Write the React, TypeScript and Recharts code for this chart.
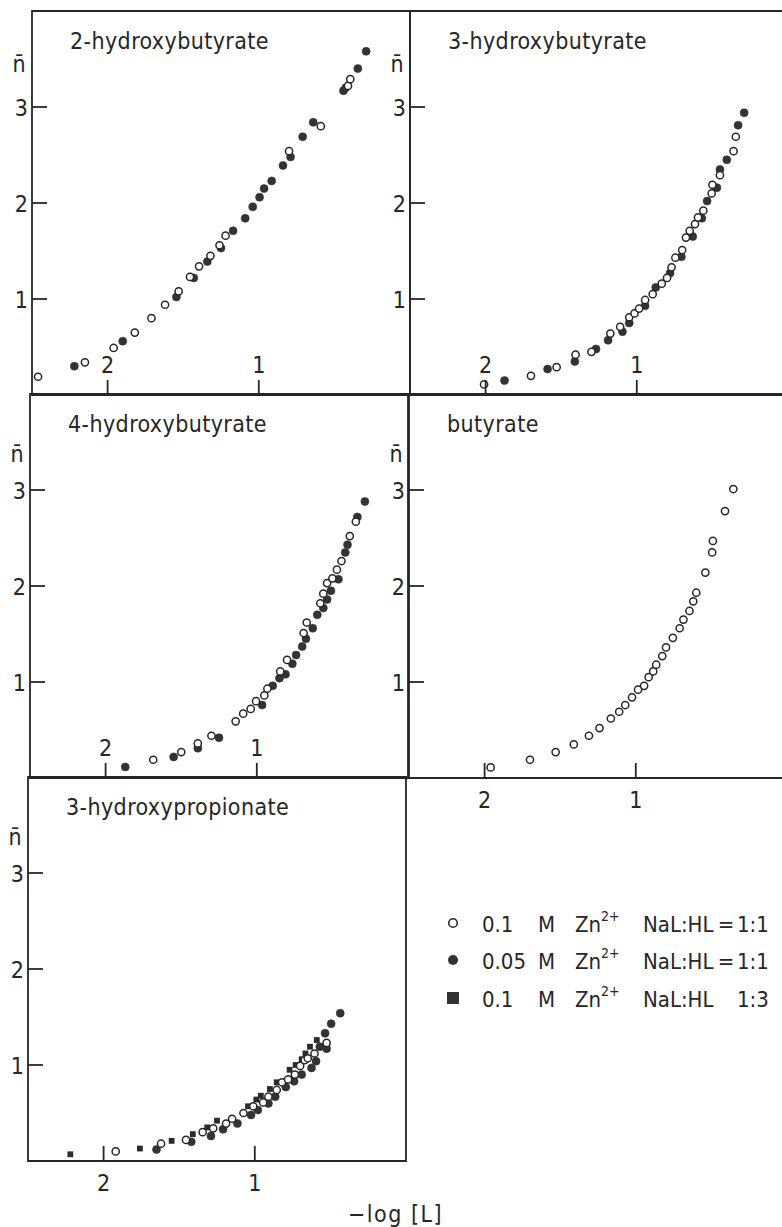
import React from "react";
import { ReferenceArea, Scatter, ScatterChart, XAxis, YAxis } from "recharts";

const FONT =
  '"DejaVu Sans Condensed", "Liberation Sans Narrow", "DejaVu Sans", sans-serif';
const INK = "#262626";

type Pt = { x: number; n: number };

const xTicks = [1, 2];
const yTicks = [1, 2, 3];

// 2-hydroxybutyrate
const hb2Open: Pt[] = [
  { x: 2.46, n: 0.19 }, { x: 2.15, n: 0.34 }, { x: 1.96, n: 0.49 }, { x: 1.82, n: 0.65 },
  { x: 1.71, n: 0.8 }, { x: 1.62, n: 0.94 }, { x: 1.53, n: 1.08 }, { x: 1.455, n: 1.23 },
  { x: 1.395, n: 1.34 }, { x: 1.32, n: 1.45 }, { x: 1.26, n: 1.56 }, { x: 1.22, n: 1.66 },
  { x: 0.8, n: 2.54 }, { x: 0.59, n: 2.8 }, { x: 0.41, n: 3.22 }, { x: 0.395, n: 3.29 },
];
const hb2Full: Pt[] = [
  { x: 2.22, n: 0.3 }, { x: 1.9, n: 0.56 }, { x: 1.545, n: 1.02 }, { x: 1.43, n: 1.22 },
  { x: 1.34, n: 1.39 }, { x: 1.25, n: 1.53 }, { x: 1.17, n: 1.71 }, { x: 1.09, n: 1.84 },
  { x: 1.04, n: 1.96 }, { x: 0.995, n: 2.06 }, { x: 0.965, n: 2.15 }, { x: 0.915, n: 2.23 },
  { x: 0.84, n: 2.39 }, { x: 0.79, n: 2.48 }, { x: 0.71, n: 2.69 }, { x: 0.64, n: 2.84 },
  { x: 0.44, n: 3.17 }, { x: 0.425, n: 3.2 }, { x: 0.345, n: 3.4 }, { x: 0.29, n: 3.58 },
];

// 3-hydroxybutyrate
const hb3Open: Pt[] = [
  { x: 2.01, n: 0.11 }, { x: 1.7, n: 0.2 }, { x: 1.53, n: 0.29 }, { x: 1.405, n: 0.42 },
  { x: 1.3, n: 0.45 }, { x: 1.175, n: 0.64 }, { x: 1.11, n: 0.71 }, { x: 1.05, n: 0.81 },
  { x: 1.015, n: 0.85 }, { x: 0.985, n: 0.9 }, { x: 0.945, n: 0.99 }, { x: 0.895, n: 1.05 },
  { x: 0.835, n: 1.16 }, { x: 0.8, n: 1.22 }, { x: 0.77, n: 1.33 }, { x: 0.745, n: 1.43 },
  { x: 0.7, n: 1.51 }, { x: 0.675, n: 1.64 }, { x: 0.65, n: 1.71 }, { x: 0.615, n: 1.78 },
  { x: 0.595, n: 1.85 }, { x: 0.56, n: 1.92 }, { x: 0.505, n: 2.1 }, { x: 0.5, n: 2.19 },
  { x: 0.45, n: 2.29 }, { x: 0.36, n: 2.54 }, { x: 0.345, n: 2.69 },
];
const hb3Full: Pt[] = [
  { x: 1.875, n: 0.15 }, { x: 1.59, n: 0.27 }, { x: 1.41, n: 0.35 }, { x: 1.27, n: 0.48 },
  { x: 1.19, n: 0.57 }, { x: 1.095, n: 0.66 }, { x: 1.05, n: 0.75 }, { x: 0.945, n: 0.93 },
  { x: 0.875, n: 1.12 }, { x: 0.78, n: 1.27 }, { x: 0.705, n: 1.44 }, { x: 0.63, n: 1.65 },
  { x: 0.57, n: 1.84 }, { x: 0.535, n: 2.02 }, { x: 0.47, n: 2.16 }, { x: 0.45, n: 2.35 },
  { x: 0.405, n: 2.45 }, { x: 0.33, n: 2.81 }, { x: 0.29, n: 2.94 },
];

// 4-hydroxybutyrate
const hb4Open: Pt[] = [
  { x: 1.685, n: 0.19 }, { x: 1.5, n: 0.27 }, { x: 1.39, n: 0.36 }, { x: 1.3, n: 0.44 },
  { x: 1.14, n: 0.59 }, { x: 1.09, n: 0.67 }, { x: 1.04, n: 0.72 }, { x: 1.005, n: 0.8 },
  { x: 0.95, n: 0.86 }, { x: 0.93, n: 0.93 }, { x: 0.845, n: 1.11 }, { x: 0.8, n: 1.23 },
  { x: 0.69, n: 1.51 }, { x: 0.67, n: 1.62 }, { x: 0.58, n: 1.82 }, { x: 0.56, n: 1.92 },
  { x: 0.535, n: 2.03 }, { x: 0.5, n: 2.08 }, { x: 0.47, n: 2.17 }, { x: 0.44, n: 2.26 },
  { x: 0.385, n: 2.52 }, { x: 0.345, n: 2.67 },
];
const hb4Full: Pt[] = [
  { x: 1.87, n: 0.115 }, { x: 1.55, n: 0.22 }, { x: 1.39, n: 0.31 }, { x: 1.25, n: 0.42 },
  { x: 0.965, n: 0.76 }, { x: 0.895, n: 0.96 }, { x: 0.85, n: 1.04 }, { x: 0.81, n: 1.08 },
  { x: 0.765, n: 1.19 }, { x: 0.74, n: 1.28 }, { x: 0.7, n: 1.37 }, { x: 0.675, n: 1.45 },
  { x: 0.63, n: 1.56 }, { x: 0.6, n: 1.7 }, { x: 0.56, n: 1.77 }, { x: 0.535, n: 1.86 },
  { x: 0.51, n: 1.95 }, { x: 0.46, n: 2.07 }, { x: 0.415, n: 2.35 }, { x: 0.4, n: 2.43 },
  { x: 0.335, n: 2.72 }, { x: 0.285, n: 2.88 },
];

// butyrate
const butOpen: Pt[] = [
  { x: 1.96, n: 0.11 }, { x: 1.7, n: 0.19 }, { x: 1.53, n: 0.27 }, { x: 1.41, n: 0.35 },
  { x: 1.31, n: 0.44 }, { x: 1.24, n: 0.52 }, { x: 1.165, n: 0.62 }, { x: 1.11, n: 0.69 },
  { x: 1.07, n: 0.76 }, { x: 1.025, n: 0.84 }, { x: 0.985, n: 0.92 }, { x: 0.945, n: 0.96 },
  { x: 0.915, n: 1.05 }, { x: 0.885, n: 1.11 }, { x: 0.865, n: 1.18 }, { x: 0.825, n: 1.27 },
  { x: 0.8, n: 1.36 }, { x: 0.755, n: 1.46 }, { x: 0.71, n: 1.56 }, { x: 0.685, n: 1.65 },
  { x: 0.645, n: 1.74 }, { x: 0.62, n: 1.84 }, { x: 0.6, n: 1.93 }, { x: 0.54, n: 2.14 },
  { x: 0.495, n: 2.35 }, { x: 0.49, n: 2.47 }, { x: 0.41, n: 2.78 }, { x: 0.355, n: 3.01 },
];

// 3-hydroxypropionate
const hp3Open: Pt[] = [
  { x: 1.92, n: 0.1 }, { x: 1.62, n: 0.18 }, { x: 1.455, n: 0.22 }, { x: 1.345, n: 0.3 },
  { x: 1.275, n: 0.34 }, { x: 1.19, n: 0.39 }, { x: 1.15, n: 0.44 }, { x: 1.075, n: 0.5 },
  { x: 1.01, n: 0.57 }, { x: 0.945, n: 0.61 }, { x: 0.91, n: 0.67 }, { x: 0.855, n: 0.74 },
  { x: 0.82, n: 0.82 }, { x: 0.78, n: 0.85 }, { x: 0.735, n: 0.9 }, { x: 0.7, n: 0.99 },
  { x: 0.67, n: 1.05 }, { x: 0.65, n: 1.07 }, { x: 0.605, n: 1.12 }, { x: 0.525, n: 1.23 },
];
const hp3Full: Pt[] = [
  { x: 1.65, n: 0.12 }, { x: 1.42, n: 0.2 }, { x: 1.29, n: 0.26 }, { x: 1.21, n: 0.33 },
  { x: 1.115, n: 0.39 }, { x: 1.025, n: 0.48 }, { x: 0.98, n: 0.53 }, { x: 0.91, n: 0.6 },
  { x: 0.865, n: 0.67 }, { x: 0.795, n: 0.77 }, { x: 0.74, n: 0.83 }, { x: 0.69, n: 0.9 },
  { x: 0.625, n: 0.97 }, { x: 0.595, n: 1.04 }, { x: 0.57, n: 1.19 }, { x: 0.525, n: 1.17 },
  { x: 0.535, n: 1.33 }, { x: 0.495, n: 1.43 }, { x: 0.435, n: 1.54 },
];
const hp3Square: Pt[] = [
  { x: 2.22, n: 0.07 }, { x: 1.76, n: 0.13 }, { x: 1.55, n: 0.21 }, { x: 1.41, n: 0.28 },
  { x: 1.315, n: 0.35 }, { x: 1.25, n: 0.42 }, { x: 1.045, n: 0.57 }, { x: 0.99, n: 0.64 },
  { x: 0.96, n: 0.68 }, { x: 0.9, n: 0.75 }, { x: 0.855, n: 0.82 }, { x: 0.77, n: 0.95 },
  { x: 0.73, n: 1.0 }, { x: 0.69, n: 1.06 }, { x: 0.665, n: 1.12 }, { x: 0.635, n: 1.19 },
  { x: 0.59, n: 1.26 },
];

const legendRows = [
  { kind: "open", conc: "0.1", sep: "=", ratio: "1:1" },
  { kind: "full", conc: "0.05", sep: "=", ratio: "1:1" },
  { kind: "square", conc: "0.1", sep: "", ratio: "1:3" },
];

const OpenDot = (p: any) => (
  <circle cx={p.cx} cy={p.cy} r={3.6} fill="#fff" stroke={INK} strokeWidth={1.5} />
);
const FullDot = (p: any) => (
  <circle cx={p.cx} cy={p.cy} r={4} fill="#333" stroke="#333" strokeWidth={0.6} />
);
const SquareDot = (p: any) => (
  <rect x={p.cx - 2.9} y={p.cy - 2.9} width={5.8} height={5.8} fill="#2b2b2b" />
);

const XTick = ({ x, y, payload, below }: any) => (
  <g>
    <line x1={x} x2={x} y1={y} y2={y - 15} stroke={INK} strokeWidth={1.8} />
    <text
      x={x}
      y={below ? y + 30 : y - 22}
      textAnchor="middle"
      fontSize={23}
      fontFamily={FONT}
      fill={INK}
    >
      {payload.value}
    </text>
  </g>
);

const YTick = ({ x, y, payload }: any) => (
  <g>
    <line x1={x} x2={x + 15} y1={y} y2={y} stroke={INK} strokeWidth={1.8} />
    <text x={x - 4} y={y + 8.5} textAnchor="end" fontSize={23} fontFamily={FONT} fill={INK}>
      {payload.value}
    </text>
  </g>
);

const PLOT_W = 378;
const PLOT_H = 384;
const PAD_L = 34;
const PAD_T = 12;
const PAD_B = 44;
const PAD_R = 8;
const AXIS_W = 20;
const AXIS_H = 20;

type Series = { data: Pt[]; shape: any; name: string };

function Panel(props: {
  left: number;
  top: number;
  title: string;
  nY: number;
  below?: boolean;
  series: Series[];
}) {
  const { left, top, title, nY, below, series } = props;
  return (
    <div style={{ position: "absolute", left: left - PAD_L, top: top - PAD_T }}>
      <ScatterChart
        width={PAD_L + PLOT_W + PAD_R}
        height={PAD_T + PLOT_H + PAD_B}
        margin={{ top: PAD_T, right: PAD_R, bottom: PAD_B - AXIS_H, left: PAD_L - AXIS_W }}
      >
        <XAxis
          type="number"
          dataKey="x"
          domain={[0, 2.5]}
          reversed
          allowDataOverflow
          ticks={xTicks}
          axisLine={false}
          tickLine={false}
          tickSize={0}
          tickMargin={0}
          height={AXIS_H}
          tick={(p: any) => <XTick {...p} below={below} />}
        />
        <YAxis
          type="number"
          dataKey="n"
          domain={[0, 4]}
          allowDataOverflow
          ticks={yTicks}
          axisLine={false}
          tickLine={false}
          tickSize={0}
          tickMargin={0}
          width={AXIS_W}
          tick={(p: any) => <YTick {...p} />}
        />
        <ReferenceArea
          x1={0}
          x2={2.5}
          y1={0}
          y2={4}
          fill="none"
          fillOpacity={0}
          stroke={INK}
          strokeWidth={1.8}
          strokeOpacity={1}
        />
        {series.map((s) => (
          <Scatter
            key={s.name}
            name={s.name}
            data={s.data}
            shape={s.shape}
            isAnimationActive={false}
          />
        ))}
        <text
          x={PAD_L + 38}
          y={PAD_T + 38}
          fontSize={23}
          letterSpacing={0.4}
          fontFamily={FONT}
          fill={INK}
        >
          {title}
        </text>
        <text
          x={PAD_L - 13}
          y={PAD_T + nY}
          textAnchor="middle"
          fontSize={23}
          fontFamily={FONT}
          fill={INK}
        >
          {"n\u0304"}
        </text>
      </ScatterChart>
    </div>
  );
}

function LegendSymbol({ kind, cx, cy }: { kind: string; cx: number; cy: number }) {
  if (kind === "open")
    return <circle cx={cx} cy={cy} r={4.3} fill="#fff" stroke={INK} strokeWidth={1.6} />;
  if (kind === "full") return <circle cx={cx} cy={cy} r={5} fill="#333" />;
  return <rect x={cx - 6} y={cy - 6} width={12} height={12} fill="#333" />;
}

export default function App() {
  const rowY = [923, 960, 998];
  return (
    <div
      style={{
        position: "absolute",
        left: 0,
        top: 0,
        width: 782,
        height: 1227,
        overflow: "hidden",
        background: "#fff",
      }}
    >
      <Panel
        left={32}
        top={11}
        title="2-hydroxybutyrate"
        nY={61}
        series={[
          { name: "0.05 M", data: hb2Full, shape: FullDot },
          { name: "0.1 M", data: hb2Open, shape: OpenDot },
        ]}
      />
      <Panel
        left={410}
        top={11}
        title="3-hydroxybutyrate"
        nY={61}
        series={[
          { name: "0.05 M", data: hb3Full, shape: FullDot },
          { name: "0.1 M", data: hb3Open, shape: OpenDot },
        ]}
      />
      <Panel
        left={30}
        top={394}
        title="4-hydroxybutyrate"
        nY={68}
        series={[
          { name: "0.05 M", data: hb4Full, shape: FullDot },
          { name: "0.1 M", data: hb4Open, shape: OpenDot },
        ]}
      />
      <Panel
        left={409}
        top={394}
        title="butyrate"
        nY={68}
        below
        series={[{ name: "0.1 M", data: butOpen, shape: OpenDot }]}
      />
      <Panel
        left={28}
        top={777}
        title="3-hydroxypropionate"
        nY={68}
        below
        series={[
          { name: "0.05 M", data: hp3Full, shape: FullDot },
          { name: "1:3", data: hp3Square, shape: SquareDot },
          { name: "0.1 M", data: hp3Open, shape: OpenDot },
        ]}
      />
      <svg
        width={782}
        height={1227}
        style={{ position: "absolute", left: 0, top: 0, pointerEvents: "none" }}
      >
        <g fontFamily={FONT} fontSize={22} fill={INK}>
          {legendRows.map((r, i) => {
            const base = rowY[i] + 8.5;
            return (
              <g key={i}>
                <LegendSymbol kind={r.kind} cx={453} cy={rowY[i]} />
                <text x={482} y={base}>{r.conc}</text>
                <text x={538} y={base}>M</text>
                <text x={575} y={base}>
                  Zn
                  <tspan dy={-11} fontSize={14}>2+</tspan>
                </text>
                <text x={643} y={base}>NaL:HL</text>
                {r.sep && (
                  <text x={726} y={base} textAnchor="middle">
                    {r.sep}
                  </text>
                )}
                <text x={737} y={base}>{r.ratio}</text>
              </g>
            );
          })}
          <text x={348} y={1222} fontSize={23} letterSpacing={1.5}>
            −log [L]
          </text>
        </g>
      </svg>
    </div>
  );
}
